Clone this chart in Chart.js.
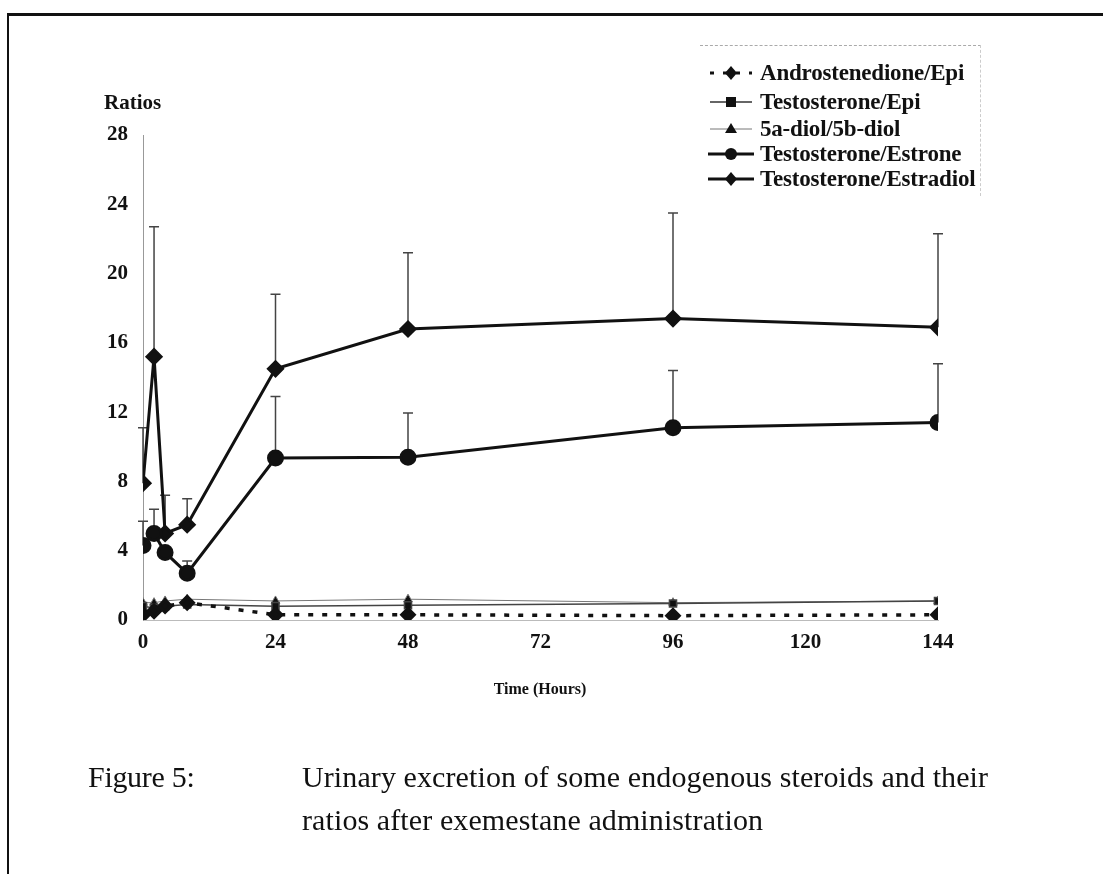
<!DOCTYPE html>
<html>
<head>
<meta charset="utf-8">
<script src="https://cdn.jsdelivr.net/npm/chart.js@4/dist/chart.umd.min.js"></script>
<style>
  html, body { margin: 0; padding: 0; background: #fff; }
  #page { position: relative; width: 1103px; height: 874px; overflow: hidden; font-family: "Liberation Serif", "Times New Roman", serif; color: #111; }
  #frame-top { position: absolute; left: 7px; top: 13px; width: 1096px; height: 3px; background: #111; }
  #frame-left { position: absolute; left: 7px; top: 13px; width: 2px; height: 861px; background: #111; }
  #chart-wrap { position: absolute; left: 0; top: 0; width: 1103px; height: 874px; }
  .lbl { position: absolute; white-space: nowrap; }
  #ratios { left: 104px; top: 90px; font-weight: bold; font-size: 21px; }
  #xtitle { left: 0; width: 1080px; text-align: center; top: 680px; font-weight: bold; font-size: 16px; }
  #cap1 { left: 88px; top: 755px; font-size: 30px; line-height: 43px; letter-spacing: -0.3px; }
  #cap2 { left: 302px; top: 755px; font-size: 30px; line-height: 43px; letter-spacing: 0.1px; }
  #legend { position: absolute; left: 700px; top: 45px; width: 280px; height: 150px;
            border-top: 1px dashed #aaa; border-right: 1px dashed #ccc; }
  .row { position: absolute; left: 8px; height: 26px; display: flex; align-items: center; }
  .row svg { width: 46px; height: 20px; margin-right: 6px; }
  .row span { font-weight: bold; font-size: 23px; letter-spacing: -0.2px; }
</style>
</head>
<body>
<div id="page">
  <div id="frame-top"></div>
  <div id="frame-left"></div>
  <div id="chart-wrap"><canvas id="chart"></canvas></div>
  <div class="lbl" id="ratios">Ratios</div>
  <div id="legend"></div>
  <div class="lbl" id="xtitle">Time (Hours)</div>
  <div class="lbl" id="cap1">Figure 5:</div>
  <div class="lbl" id="cap2">Urinary excretion of some endogenous steroids and their<br>ratios after exemestane administration</div>
</div>
<script>
// ── Data ─────────────────────────────────────────────────────────────────────

const hours = [0, 2, 4, 8, 24, 48, 96, 144];

const androEpi     = [0.3, 0.5, 0.8, 1.0, 0.3, 0.3, 0.25, 0.3];
const testoEpi     = [0.8, 0.7, 0.8, 0.9, 0.8, 0.85, 0.95, 1.1];
const diolRatio    = [1.0, 1.0, 1.1, 1.2, 1.1, 1.2, 1.0, 1.1];
const testoEstrone = [4.3, 5.0, 3.9, 2.7, 9.35, 9.4, 11.1, 11.4];
const testoEstradiol = [7.9, 15.2, 5.0, 5.5, 14.5, 16.8, 17.4, 16.9];

// mean + SD (upper error bar ends)
const estroneErrTop   = [5.7, 6.4, null, 3.4, 12.9, 11.95, 14.4, 14.8];
const estradiolErrTop = [11.1, 22.7, 7.2, 7.0, 18.8, 21.2, 23.5, 22.3];

const xTicks = [0, 24, 48, 72, 96, 120, 144];
const yTicks = [0, 4, 8, 12, 16, 20, 24, 28];

const seriesLabels = ['Androstenedione/Epi', 'Testosterone/Epi', '5a-diol/5b-diol', 'Testosterone/Estrone', 'Testosterone/Estradiol'];

// ── Helpers ──────────────────────────────────────────────────────────────────

const INK = '#111';
const pts = arr => hours.map((h, i) => ({ x: h, y: arr[i] }));

const errorBars = {
  id: 'errorBars',
  beforeDatasetsDraw(chart) {
    const { ctx, scales: { x, y } } = chart;
    ctx.save();
    ctx.strokeStyle = '#444';
    ctx.lineWidth = 1.5;
    [[testoEstrone, estroneErrTop], [testoEstradiol, estradiolErrTop]].forEach(([mean, top]) => {
      hours.forEach((h, i) => {
        if (top[i] == null) return;
        const px = x.getPixelForValue(h);
        const y0 = y.getPixelForValue(mean[i]);
        const y1 = y.getPixelForValue(top[i]);
        ctx.beginPath();
        ctx.moveTo(px, y0); ctx.lineTo(px, y1);
        ctx.moveTo(px - 5, y1); ctx.lineTo(px + 5, y1);
        ctx.stroke();
      });
    });
    ctx.restore();
  },
};

// ── Chart ────────────────────────────────────────────────────────────────────

new Chart(document.getElementById('chart'), {
  type: 'line',
  data: {
    datasets: [
      { label: seriesLabels[0], data: pts(androEpi), borderColor: INK, backgroundColor: INK,
        borderWidth: 3.5, borderDash: [5, 9], pointStyle: 'rectRot', pointRadius: 6 },
      { label: seriesLabels[1], data: pts(testoEpi), borderColor: '#444', backgroundColor: INK,
        borderWidth: 1.5, pointStyle: 'rect', pointRadius: 5 },
      { label: seriesLabels[2], data: pts(diolRatio), borderColor: '#777', backgroundColor: INK,
        borderWidth: 1, pointStyle: 'triangle', pointRadius: 5 },
      { label: seriesLabels[3], data: pts(testoEstrone), borderColor: INK, backgroundColor: INK,
        borderWidth: 3, pointStyle: 'circle', pointRadius: 7 },
      { label: seriesLabels[4], data: pts(testoEstradiol), borderColor: INK, backgroundColor: INK,
        borderWidth: 3, pointStyle: 'rectRot', pointRadius: 7 },
    ],
  },
  options: {
    responsive: true,
    maintainAspectRatio: false,
    animation: false,
    layout: { padding: { left: 0, right: 165, top: 135, bottom: 0 } },
    plugins: { legend: { display: false }, tooltip: { enabled: false } },
    elements: { line: { tension: 0 }, point: { borderWidth: 0 } },
    scales: {
      x: {
        type: 'linear', min: 0, max: 144,
        afterBuildTicks: s => { s.ticks = xTicks.map(v => ({ value: v })); },
        afterFit: s => { s.height = 254; },
        grid: { display: false, drawTicks: false },
        border: { display: true, color: '#bbb', width: 1 },
        ticks: { padding: 10, color: INK, font: { family: 'Liberation Serif', size: 21, weight: 'bold' }, maxRotation: 0 },
      },
      y: {
        min: 0, max: 28,
        afterBuildTicks: s => { s.ticks = yTicks.map(v => ({ value: v })); },
        afterFit: s => { s.width = 143; },
        grid: { display: false, drawTicks: false },
        border: { display: true, color: '#999', width: 1, dash: [1, 4] },
        ticks: { padding: 15, color: INK, font: { family: 'Liberation Serif', size: 21, weight: 'bold' } },
      },
    },
  },
  plugins: [errorBars],
});

// ── Legend ───────────────────────────────────────────────────────────────────

const legendSymbols = [
  '<line x1="2" y1="10" x2="44" y2="10" stroke="#111" stroke-width="3" stroke-dasharray="4 9"/><polygon points="23,3 29,10 23,17 17,10" fill="#111"/>',
  '<line x1="2" y1="10" x2="44" y2="10" stroke="#333" stroke-width="1.5"/><rect x="18" y="5" width="10" height="10" fill="#111"/>',
  '<line x1="2" y1="10" x2="44" y2="10" stroke="#777" stroke-width="1"/><polygon points="23,4 29,14 17,14" fill="#111"/>',
  '<line x1="0" y1="10" x2="46" y2="10" stroke="#111" stroke-width="3"/><circle cx="23" cy="10" r="6" fill="#111"/>',
  '<line x1="0" y1="10" x2="46" y2="10" stroke="#111" stroke-width="3"/><polygon points="23,3 29,10 23,17 17,10" fill="#111"/>',
];
const legendRows = [27, 56, 83, 108, 133];
const legend = document.getElementById('legend');
seriesLabels.forEach((label, i) => {
  const row = document.createElement('div');
  row.className = 'row';
  row.style.top = (legendRows[i] - 13) + 'px';
  row.innerHTML = `<svg viewBox="0 0 46 20">${legendSymbols[i]}</svg><span>${label}</span>`;
  legend.appendChild(row);
});
</script>
</body>
</html>
